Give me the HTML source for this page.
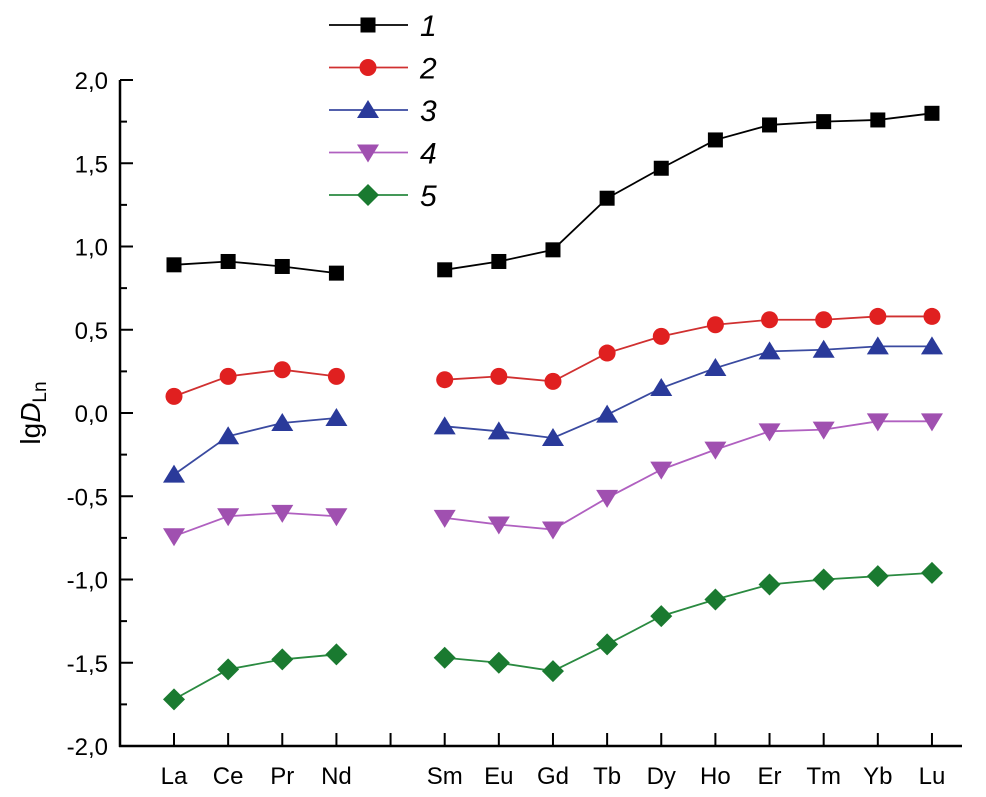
<!DOCTYPE html>
<html><head><meta charset="utf-8"><style>
html,body{margin:0;padding:0;background:#fff;}
svg text{font-family:"Liberation Sans",sans-serif;}
</style></head><body>
<svg id="chart" width="986" height="792" xmlns="http://www.w3.org/2000/svg">
<g id="axes"></g>
<g id="series"></g>
<g id="legend"></g>
<text transform="translate(40,413) rotate(-90)" text-anchor="middle" font-size="28">lg<tspan font-style="italic">D</tspan><tspan font-size="19" dy="6">Ln</tspan></text>
</svg>
<script>
const categories = ["La","Ce","Pr","Nd","Pm","Sm","Eu","Gd","Tb","Dy","Ho","Er","Tm","Yb","Lu"];
const labelShown = [true,true,true,true,false,true,true,true,true,true,true,true,true,true,true];
const s1 = [0.89,0.91,0.88,0.84,null,0.86,0.91,0.98,1.29,1.47,1.64,1.73,1.75,1.76,1.80];
const s2 = [0.10,0.22,0.26,0.22,null,0.20,0.22,0.19,0.36,0.46,0.53,0.56,0.56,0.58,0.58];
const s3 = [-0.37,-0.14,-0.06,-0.03,null,-0.08,-0.11,-0.15,-0.01,0.15,0.27,0.37,0.38,0.40,0.40];
const s4 = [-0.74,-0.62,-0.60,-0.62,null,-0.63,-0.67,-0.70,-0.51,-0.34,-0.22,-0.11,-0.10,-0.05,-0.05];
const s5 = [-1.72,-1.54,-1.48,-1.45,null,-1.47,-1.50,-1.55,-1.39,-1.22,-1.12,-1.03,-1.00,-0.98,-0.96];
const seriesNames = ["1","2","3","4","5"];
const yTicks = [-2.0,-1.5,-1.0,-0.5,0.0,0.5,1.0,1.5,2.0];
const yTickLabels = ["-2,0","-1,5","-1,0","-0,5","0,0","0,5","1,0","1,5","2,0"];

const NS="http://www.w3.org/2000/svg";
const X0=174, DX=54.14, AX=120, AY=746, YTOP=80;
const xs=i=>X0+i*DX;
const ys=v=>AY-(v+2)/4*(AY-YTOP);
function mk(tag,attrs,parent){const e=document.createElementNS(NS,tag);for(const k in attrs)e.setAttribute(k,attrs[k]);parent.appendChild(e);return e;}
const axes=document.getElementById('axes');
let l=mk('line',{x1:AX,y1:YTOP,x2:AX,y2:AY+1,stroke:'#000','stroke-width':2.5},axes);


l=mk('line',{x1:AX-1,y1:AY,x2:962,y2:AY,stroke:'#000','stroke-width':2.5},axes);


yTicks.forEach((v,i)=>{
  const y=ys(v);
  const t=mk('line',{x1:AX,y1:y,x2:AX+13,y2:y,stroke:'#000','stroke-width':2},axes);
  
  
  if(i<yTicks.length-1){const m=mk('line',{x1:AX,y1:ys(v+0.25),x2:AX+7,y2:ys(v+0.25),stroke:'#000','stroke-width':2},axes);
  
  }
  const tx=mk('text',{x:108,y:y+9,'text-anchor':'end','font-size':24},axes);
  tx.textContent=yTickLabels[i];
  
  
});
categories.forEach((c,i)=>{
  const x=xs(i);
  const t=mk('line',{x1:x,y1:AY,x2:x,y2:AY-13,stroke:'#000','stroke-width':2},axes);
  
  
  if(labelShown[i]){const tx=mk('text',{x:x,y:784,'text-anchor':'middle','font-size':24},axes);
  tx.textContent=c;
  
  }
});
const colors=['#000','#e02020','#2a3a9a','#a050b0','#1a7a30'];
const lineColors=['#000','#d03030','#3a4aa0','#b060c0','#2a8a40'];
function marker(k,x,y,g){
  let e;
  if(k===0)e=mk('rect',{x:x-7.5,y:y-7.5,width:15,height:15,fill:colors[k]},g);
  else if(k===1)e=mk('circle',{cx:x,cy:y,r:8.5,fill:colors[k]},g);
  else if(k===2)e=mk('polygon',{points:`${x},${y-10} ${x+11},${y+8} ${x-11},${y+8}`,fill:colors[k]},g);
  else if(k===3)e=mk('polygon',{points:`${x-11},${y-8} ${x+11},${y-8} ${x},${y+10}`,fill:colors[k]},g);
  else e=mk('polygon',{points:`${x},${y-11} ${x+11},${y} ${x},${y+11} ${x-11},${y}`,fill:colors[k]},g);
  return e;
}
const all=[s1,s2,s3,s4,s5];
const sg=document.getElementById('series');
all.forEach((s,k)=>{
  const g=mk('g',{},sg);
  
  
  let segs=[],cur=[];
  s.forEach((v,i)=>{if(v===null){if(cur.length)segs.push(cur);cur=[];}else cur.push([xs(i),ys(v)]);});
  if(cur.length)segs.push(cur);
  segs.forEach(sp=>{const p=mk('polyline',{points:sp.map(q=>q.join(',')).join(' '),fill:'none',stroke:lineColors[k],'stroke-width':1.8},g);
    
    });
  s.forEach((v,i)=>{if(v===null)return;const m=marker(k,xs(i),ys(v),g);
    
    });
});
const lg=document.getElementById('legend');
seriesNames.forEach((n,k)=>{
  const y=25+k*42.5;
  const g=mk('g',{},lg);
  
  
  mk('line',{x1:329,y1:y,x2:408,y2:y,stroke:lineColors[k],'stroke-width':1.8},g);
  marker(k,368,y,g);
  const t=mk('text',{x:420,y:y+11,'font-size':30,'font-style':'italic'},g);
  t.textContent=n;
});
</script>
</body></html>
